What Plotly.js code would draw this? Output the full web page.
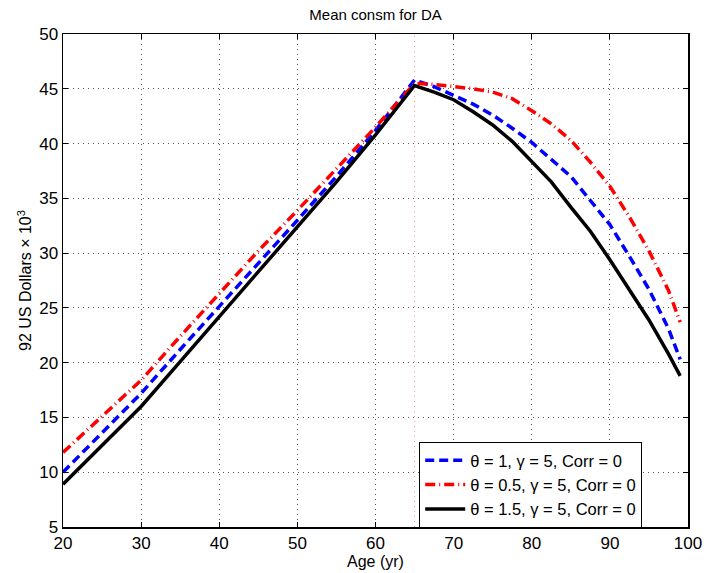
<!DOCTYPE html>
<html>
<head>
<meta charset="utf-8">
<script src="https://cdn.plot.ly/plotly-3.0.1.min.js"></script>
<style>body{margin:0;padding:0;background:#fff}#chart{width:704px;height:573px}</style>
</head>
<body>
<div id="chart"></div>
<script>
// Data
const ages =    [20, 25, 30, 35, 40, 45, 50, 55, 60, 65, 67.5, 70, 72.5, 75, 77.5, 80, 82.5, 85, 87.5, 90, 92.5, 95, 97.5, 99];
const theta1 =  [10.0, 13.6, 17.2, 21.2, 25.1, 29.0, 33.0, 37.0, 41.2, 45.8, 45.2, 44.4, 43.6, 42.6, 41.4, 40.1, 38.6, 37.0, 34.8, 32.6, 29.7, 26.7, 23.1, 20.3];
const theta05 = [11.8, 15.1, 18.4, 22.4, 26.3, 30.2, 33.9, 37.7, 41.5, 45.5, 45.4, 45.2, 45.0, 44.7, 44.1, 43.0, 41.8, 40.3, 38.3, 36.1, 33.3, 30.2, 26.6, 23.7];
const theta15 = [8.9, 12.4, 16.0, 20.1, 24.2, 28.2, 32.3, 36.5, 40.8, 45.3, 44.7, 44.0, 42.9, 41.7, 40.2, 38.3, 36.5, 34.2, 32.0, 29.4, 26.7, 23.9, 20.8, 18.8];
const seriesNames = ['θ = 1, γ = 5, Corr = 0', 'θ = 0.5, γ = 5, Corr = 0', 'θ = 1.5, γ = 5, Corr = 0'];
const retireAge = 65;
const xTicks = [20, 30, 40, 50, 60, 70, 80, 90, 100];
const yTicks = [5, 10, 15, 20, 25, 30, 35, 40, 45, 50];

const font = 'Liberation Sans, Arial, Helvetica, sans-serif';
const traces = [
  {x: ages, y: theta1, name: seriesNames[0], mode: 'lines',
   line: {color: '#0000ff', width: 3.5, dash: '9px,5px'}},
  {x: ages, y: theta05, name: seriesNames[1], mode: 'lines',
   line: {color: '#ff0000', width: 3.5, dash: '10px,4px,1px,4px'}},
  {x: ages, y: theta15, name: seriesNames[2], mode: 'lines',
   line: {color: '#000000', width: 3.5}}
];

const axisCommon = {
  showline: true, linecolor: '#000', linewidth: 1.5, mirror: 'allticks',
  ticks: 'inside', ticklen: 5, tickcolor: '#000', tickwidth: 1,
  showgrid: true, gridcolor: '#555', griddash: '1px,4px', gridwidth: 1,
  zeroline: false, tickfont: {family: font, size: 17, color: '#000'}
};

const layout = {
  width: 704, height: 573,
  margin: {l: 63, r: 16, t: 34, b: 46},
  paper_bgcolor: '#fff', plot_bgcolor: '#fff',
  title: {text: 'Mean consm for DA', font: {family: font, size: 15, color: '#000'},
          x: 0.5335, xanchor: 'center', yref: 'container', y: 0.975, yanchor: 'middle'},
  xaxis: Object.assign({}, axisCommon, {range: [20, 100], tickvals: xTicks,
          title: {text: 'Age (yr)', font: {family: font, size: 16, color: '#000'}, standoff: 2}}),
  yaxis: Object.assign({}, axisCommon, {range: [5, 50], tickvals: yTicks,
          title: {text: '92 US Dollars × 10<sup>3</sup>', font: {family: font, size: 16, color: '#000'}, standoff: 3}}),
  shapes: [{type: 'line', xref: 'x', yref: 'paper', x0: retireAge, x1: retireAge, y0: 0, y1: 1,
            line: {color: '#ff9999', width: 1, dash: '1px,4px'}, layer: 'below'}],
  legend: {x: 0.5696, y: 0.173, xanchor: 'left', yanchor: 'top',
           bgcolor: '#fff', bordercolor: '#000', borderwidth: 1.2,
           font: {family: font, size: 16.5, color: '#000'}, tracegroupgap: 0, itemwidth: 40},
  showlegend: true
};

Plotly.newPlot('chart', traces, layout, {displayModeBar: false, staticPlot: true});
</script>
</body>
</html>
